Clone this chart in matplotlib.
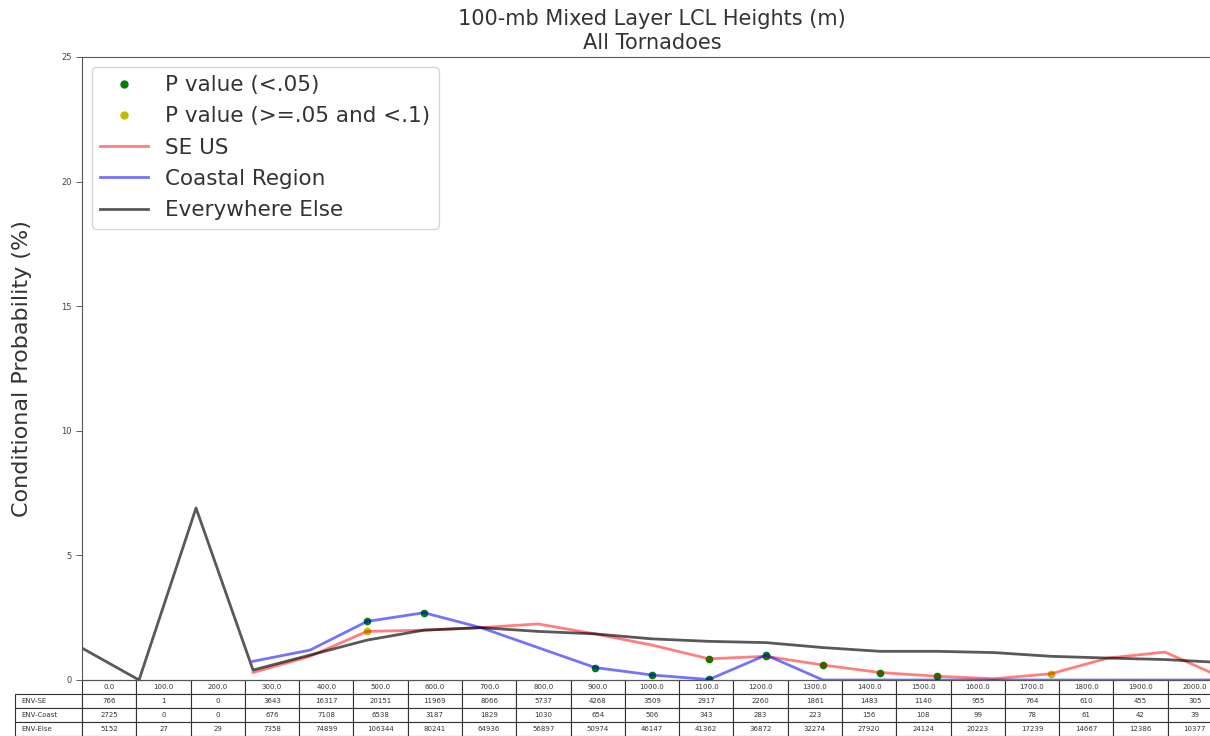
import matplotlib
matplotlib.use('Agg')
import matplotlib.pyplot as plt
from matplotlib.lines import Line2D
import numpy as np

# LCL height bins (m)
bins = [0.0, 100.0, 200.0, 300.0, 400.0, 500.0, 600.0, 700.0, 800.0, 900.0, 1000.0,
        1100.0, 1200.0, 1300.0, 1400.0, 1500.0, 1600.0, 1700.0, 1800.0, 1900.0, 2000.0]

# conditional probability of a tornado (%) per bin
se_us = [np.nan, np.nan, np.nan, 0.3, 0.95, 1.95, 2.0, 2.1, 2.25, 1.85, 1.4,
         0.85, 0.95, 0.6, 0.3, 0.15, 0.05, 0.25, 0.88, 1.12, 0.1]
coastal = [np.nan, np.nan, np.nan, 0.75, 1.2, 2.35, 2.7, 2.1, 1.3, 0.5, 0.2,
           0.02, 1.0, 0.0, 0.0, 0.0, 0.0, 0.0, 0.0, 0.0, 0.0]
everywhere = [1.28, 0.0, 6.9, 0.4, 1.0, 1.6, 2.0, 2.1, 1.95, 1.85, 1.65,
              1.55, 1.5, 1.3, 1.15, 1.15, 1.1, 0.95, 0.88, 0.82, 0.7]

# bins where the difference from everywhere else is significant
se_p05 = [11, 12, 13, 14, 15]
se_p10 = [5, 17]
coast_p05 = [5, 6, 9, 10, 11, 12]
coast_p10 = []

# environment counts per bin
env_se = [766, 1, 0, 3643, 16317, 20151, 11969, 8066, 5737, 4268, 3509,
          2917, 2260, 1861, 1483, 1140, 955, 764, 610, 455, 305]
env_coast = [2725, 0, 0, 676, 7108, 6538, 3187, 1829, 1030, 654, 506,
             343, 283, 223, 156, 108, 99, 78, 61, 42, 39]
env_else = [5152, 27, 29, 7358, 74899, 106344, 80241, 64936, 56897, 50974, 46147,
            41362, 36872, 32274, 27920, 24124, 20223, 17239, 14667, 12386, 10377]
row_labels = ['ENV-SE', 'ENV-Coast', 'ENV-Else']

fig = plt.figure(figsize=(12.1, 7.36), dpi=100)
ax = fig.add_axes([0.0678, 0.0761, 0.9421, 0.8465])

x = np.arange(len(bins))
se_us = np.array(se_us)
coastal = np.array(coastal)

# significance dots first so the translucent lines sit over them
ax.plot(x[se_p05], se_us[se_p05], 'o', color='g', markersize=4.5)
ax.plot(x[se_p10], se_us[se_p10], 'o', color='y', markersize=4.5)
ax.plot(x[coast_p05], coastal[coast_p05], 'o', color='g', markersize=4.5)
if coast_p10:
    ax.plot(x[coast_p10], coastal[coast_p10], 'o', color='y', markersize=4.5)

ax.plot(x, se_us, color='r', alpha=0.5, linewidth=2)
ax.plot(x, coastal, color='b', alpha=0.55, linewidth=2)
ax.plot(x, everywhere, color='k', alpha=0.65, linewidth=2)

ax.set_xlim(0, 20)
ax.set_ylim(0, 25)
ax.set_xticks([])
ax.set_yticks([0, 5, 10, 15, 20, 25])
ax.tick_params(axis='y', labelsize=6, length=4, width=0.6, colors='#444444')
for s in ax.spines.values():
    s.set_color('#555555')
    s.set_linewidth(0.8)

ax.set_ylabel('Conditional Probability (%)', fontsize=16, color='#333333')
ax.yaxis.set_label_coords(-0.044, 0.5)
ax.set_title('100-mb Mixed Layer LCL Heights (m)\nAll Tornadoes', fontsize=15, color='#333333')

handles = [
    Line2D([], [], linestyle='none', marker='o', color='g', markersize=5),
    Line2D([], [], linestyle='none', marker='o', color='y', markersize=5),
    Line2D([], [], color='r', alpha=0.5, linewidth=2),
    Line2D([], [], color='b', alpha=0.55, linewidth=2),
    Line2D([], [], color='k', alpha=0.65, linewidth=2),
]
labels = ['P value (<.05)', 'P value (>=.05 and <.1)', 'SE US', 'Coastal Region', 'Everywhere Else']
leg = ax.legend(handles, labels, loc='upper left', fontsize=15.5, handlelength=2.2,
                borderaxespad=0.45, labelspacing=0.52)
for t in leg.get_texts():
    t.set_color('#333333')

# count table under the axes; data columns span the axes, row labels hang to the left
cell_text = [[str(v) for v in env_se], [str(v) for v in env_coast], [str(v) for v in env_else]]
col_labels = [str(b) for b in bins]
lab_w = 67 / 1140
tab_h = 56 / 623
row_h = tab_h / 4
tbl = ax.table(cellText=cell_text, colLabels=col_labels,
               colWidths=[1 / 21] * 21, cellLoc='center',
               bbox=[0, -tab_h, 1, tab_h])
for cell in tbl.get_celld().values():
    cell.set_height(row_h)
for i, name in enumerate(row_labels):
    tbl.add_cell(i + 1, -1, width=lab_w, height=row_h, text=name, loc='left')
tbl.auto_set_font_size(False)
tbl.set_fontsize(5)
for cell in tbl.get_celld().values():
    cell.set_edgecolor('#333333')
    cell.set_linewidth(0.8)
    cell.get_text().set_color('#333333')

fig.savefig('out.png', dpi=100)
